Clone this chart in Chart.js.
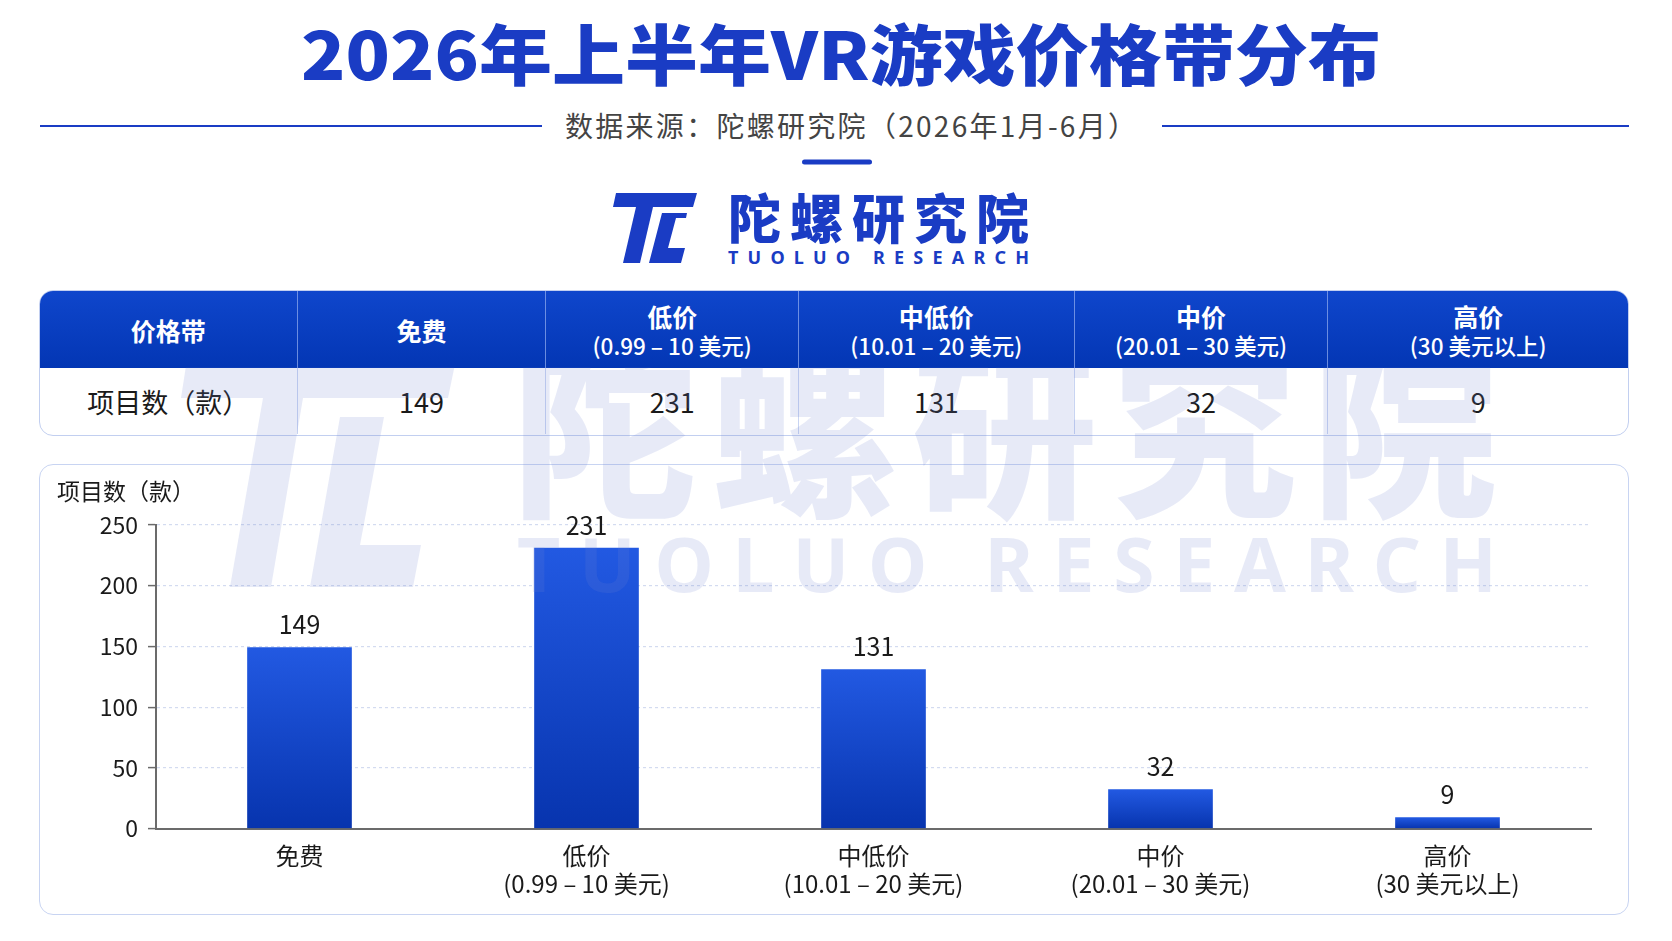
<!DOCTYPE html>
<html lang="zh-CN">
<head>
<meta charset="utf-8">
<title>2026年上半年VR游戏价格带分布</title>
<script src="https://cdn.jsdelivr.net/npm/chart.js@4.4.1/dist/chart.umd.min.js"></script>
<style>
  html, body {
    margin: 0;
    padding: 0;
    background: #ffffff;
  }
  body {
    width: 1672px;
    height: 941px;
    position: relative;
    overflow: hidden;
    font-family: "Noto Sans CJK SC", "Noto Sans", sans-serif;
  }
  .layer {
    position: absolute;
    left: 0;
    top: 0;
    width: 1672px;
    height: 941px;
    pointer-events: none;
  }
  #price-table {
    position: absolute;
    left: 39px;
    top: 290px;
    width: 1590px;
    height: 146px;
    box-sizing: border-box;
    border: 1.5px solid #c2cff0;
    border-radius: 14px;
    overflow: hidden;
  }
  .row {
    display: flex;
  }
  .row.head {
    height: 77px;
    background: linear-gradient(180deg, #0f46cc 0%, #0336b4 100%);
    color: #fff;
  }
  .row.body {
    height: 66px;
    color: #1a1a1a;
    font-size: 27px;
  }
  .cell {
    box-sizing: border-box;
    display: flex;
    flex-direction: column;
    align-items: center;
    justify-content: center;
    text-align: center;
  }
  .row.head .cell + .cell {
    border-left: 1px solid rgba(150, 175, 240, 0.7);
  }
  .row.body .cell + .cell {
    border-left: 1px solid #c8d4f2;
  }
  .row.head .l1 {
    font-size: 25px;
    font-weight: 700;
    line-height: 30px;
  }
  .row.head .l2 {
    font-size: 22.5px;
    font-weight: 500;
    line-height: 28px;
  }
  #chart-panel {
    position: absolute;
    left: 39px;
    top: 464px;
    width: 1590px;
    height: 451px;
    box-sizing: border-box;
    border: 1.5px solid #c8d4f2;
    border-radius: 14px;
  }
  #chart-box {
    position: absolute;
    left: 39px;
    top: 464px;
    width: 1590px;
    height: 451px;
  }
</style>
</head>
<body>

<!-- 标题、来源、logo -->
<svg class="layer" viewBox="0 0 1672 941" xmlns="http://www.w3.org/2000/svg">
  <text x="301" y="80" textLength="1080" lengthAdjust="spacingAndGlyphs"
        font-family="Noto Sans CJK SC" font-weight="900" font-size="66" fill="#1a3cc4">2026年上半年VR游戏价格带分布</text>

  <line x1="40" y1="126" x2="542" y2="126" stroke="#1a3cc4" stroke-width="2"/>
  <line x1="1162" y1="126" x2="1629" y2="126" stroke="#1a3cc4" stroke-width="2"/>
  <text x="565" y="137" textLength="571" lengthAdjust="spacing"
        font-family="Noto Sans CJK SC" font-size="28" fill="#444">数据来源：陀螺研究院（2026年1月-6月）</text>
  <rect x="802" y="159.5" width="70" height="5" rx="2.5" fill="#1a3cc4"/>

  <!-- TL 图标 -->
  <path d="M616,193 L697,193 L693,207 L613,207 Z" fill="#1a3cc4"/>
  <path d="M636,207 L653,207 L640,263 L623,263 Z" fill="#1a3cc4"/>
  <path d="M662,213 L687,213 L686,218 L676,218 L668,248 L685,248 L681,263 L649,263 Z" fill="#1a3cc4"/>
  <text x="728" y="239" textLength="301" lengthAdjust="spacing"
        font-family="Noto Sans CJK SC" font-weight="900" font-size="53" fill="#1a3cc4">陀螺研究院</text>
  <text x="728" y="264" textLength="301" lengthAdjust="spacing"
        font-family="Noto Sans" font-weight="700" font-size="18" fill="#1a3cc4">TUOLUO RESEARCH</text>
</svg>

<div id="price-table"></div>
<div id="chart-panel"></div>
<div id="chart-box"><canvas id="price-chart"></canvas></div>

<!-- 水印 -->
<svg class="layer" viewBox="0 0 1672 941" xmlns="http://www.w3.org/2000/svg">
  <defs>
    <clipPath id="below-head"><rect x="0" y="367.5" width="1672" height="574"/></clipPath>
  </defs>
  <g clip-path="url(#below-head)" fill="rgb(110,133,205)" fill-opacity="0.17">
    <path d="M190,340 L460,340 L448,398 L181,398 Z"/>
    <path d="M263,398 L303,398 L271,587 L230,587 Z"/>
    <path d="M340,417 L384,417 L360,545 L421,545 L413,587 L310,587 Z"/>
    <text x="512" y="503" textLength="985" lengthAdjust="spacing"
          font-family="Noto Sans CJK SC" font-weight="900" font-size="185">陀螺研究院</text>
    <text x="517" y="592" textLength="980" lengthAdjust="spacing"
          font-family="Noto Sans" font-weight="700" font-size="75">TUOLUO RESEARCH</text>
  </g>
</svg>

<script>
// 价格带分类
const categories = ["免费", "低价", "中低价", "中价", "高价"];
const priceRanges = ["", "(0.99 – 10 美元)", "(10.01 – 20 美元)", "(20.01 – 30 美元)", "(30 美元以上)"];
// 项目数（款）
const gameCounts = [149, 231, 131, 32, 9];
const yTicks = [0, 50, 100, 150, 200, 250];

// 表格
const colWidths = [257, 249, 253, 276, 254, 301];

function buildTable() {
    const table = document.getElementById("price-table");
    const head = document.createElement("div");
    head.className = "row head";
    const body = document.createElement("div");
    body.className = "row body";

    const headCells = [["价格带", ""]].concat(categories.map((c, i) => [c, priceRanges[i]]));
    const bodyCells = ["项目数（款）"].concat(gameCounts.map(String));

    headCells.forEach((h, i) => {
        const cell = document.createElement("div");
        cell.className = "cell";
        cell.style.width = colWidths[i] + "px";
        cell.innerHTML = '<div class="l1"></div>' + (h[1] ? '<div class="l2"></div>' : "");
        cell.querySelector(".l1").textContent = h[0];
        if (h[1]) cell.querySelector(".l2").textContent = h[1];
        head.appendChild(cell);
    });
    bodyCells.forEach((t, i) => {
        const cell = document.createElement("div");
        cell.className = "cell";
        cell.style.width = colWidths[i] + "px";
        cell.textContent = t;
        body.appendChild(cell);
    });
    table.appendChild(head);
    table.appendChild(body);
}
buildTable();

// 柱子上的数值
const valueLabelPlugin = {
    id: "valueLabels",
    afterDatasetsDraw(chart) {
        const ctx = chart.ctx;
        const meta = chart.getDatasetMeta(0);
        ctx.save();
        ctx.font = "25px 'Noto Sans CJK SC', sans-serif";
        ctx.fillStyle = "#1a1a1a";
        ctx.textAlign = "center";
        ctx.textBaseline = "middle";
        meta.data.forEach((bar, i) => {
            ctx.fillText(String(gameCounts[i]), bar.x, bar.y - 23);
        });
        ctx.restore();
    },
};

// 左上角轴标题
const axisTitlePlugin = {
    id: "axisTitle",
    afterDraw(chart) {
        const ctx = chart.ctx;
        const area = chart.chartArea;
        ctx.save();
        ctx.font = "23px 'Noto Sans CJK SC', sans-serif";
        ctx.fillStyle = "#1a1a1a";
        ctx.textAlign = "left";
        ctx.textBaseline = "middle";
        ctx.fillText("项目数（款）", area.left - 99, area.top - 34);
        ctx.restore();
    },
};

function barGradient(c) {
    const chart = c.chart;
    if (!chart.chartArea || c.type !== "data") return "#1a4fd6";
    const y = chart.scales.y;
    const top = y.getPixelForValue(c.raw);
    const bottom = y.getPixelForValue(0);
    const g = chart.ctx.createLinearGradient(0, top, 0, bottom);
    g.addColorStop(0, "#2259e2");
    g.addColorStop(1, "#0734ae");
    return g;
}

const ctx = document.getElementById("price-chart").getContext("2d");
new Chart(ctx, {
    type: "bar",
    data: {
        labels: categories.map((c, i) => (priceRanges[i] ? [c, priceRanges[i]] : [c])),
        datasets: [
            {
                label: "项目数（款）",
                data: gameCounts,
                backgroundColor: barGradient,
                borderWidth: 0,
                barThickness: 104,
            },
        ],
    },
    plugins: [valueLabelPlugin, axisTitlePlugin],
    options: {
        responsive: true,
        maintainAspectRatio: false,
        animation: false,
        layout: {
            padding: { top: 61, right: 38, left: 0, bottom: 0 },
        },
        plugins: {
            legend: { display: false },
            tooltip: { enabled: false },
        },
        scales: {
            x: {
                grid: { display: false, drawTicks: false },
                border: { display: true, color: "#6b6b6b", width: 2 },
                ticks: {
                    color: "#1a1a1a",
                    padding: 13,
                    maxRotation: 0,
                    autoSkip: false,
                    font: { family: "'Noto Sans CJK SC', sans-serif", size: 24, lineHeight: "28px" },
                },
                afterFit(scale) {
                    scale.height = 86.5;
                },
            },
            y: {
                min: 0,
                max: 250,
                afterBuildTicks(scale) {
                    scale.ticks = yTicks.map((v) => ({ value: v }));
                },
                grid: {
                    color: "#d3dbf0",
                    lineWidth: 1.2,
                    tickColor: "#6b6b6b",
                    tickLength: 8,
                    tickWidth: 1.5,
                    tickBorderDash: [],
                },
                border: { display: true, color: "#6b6b6b", width: 2, dash: [3, 3] },
                ticks: {
                    color: "#1a1a1a",
                    padding: 10,
                    font: { family: "'Noto Sans CJK SC', sans-serif", size: 23 },
                },
                afterFit(scale) {
                    scale.width = 117;
                },
            },
        },
    },
});
</script>
</body>
</html>
